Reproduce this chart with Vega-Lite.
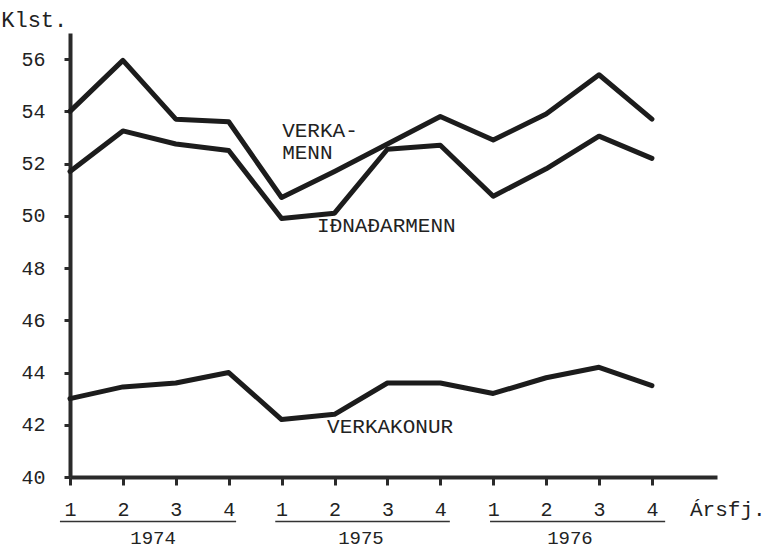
{
  "$schema": "https://vega.github.io/schema/vega-lite/v6.json",
  "width": 647,
  "height": 444,
  "autosize": "none",
  "padding": {"left": 70, "top": 33, "right": 51, "bottom": 74},
  "background": "white",
  "config": {"view": {"stroke": null}, "font": "Liberation Mono"},
  "datasets": {
    "series": [
      {"t": 0, "group": "VERKAMENN", "value": 54.0},
      {"t": 1, "group": "VERKAMENN", "value": 55.95},
      {"t": 2, "group": "VERKAMENN", "value": 53.7},
      {"t": 3, "group": "VERKAMENN", "value": 53.6},
      {"t": 4, "group": "VERKAMENN", "value": 50.7},
      {"t": 5, "group": "VERKAMENN", "value": 51.7},
      {"t": 6, "group": "VERKAMENN", "value": 52.75},
      {"t": 7, "group": "VERKAMENN", "value": 53.8},
      {"t": 8, "group": "VERKAMENN", "value": 52.9},
      {"t": 9, "group": "VERKAMENN", "value": 53.9},
      {"t": 10, "group": "VERKAMENN", "value": 55.4},
      {"t": 11, "group": "VERKAMENN", "value": 53.7},
      {"t": 0, "group": "IÐNAÐARMENN", "value": 51.7},
      {"t": 1, "group": "IÐNAÐARMENN", "value": 53.25},
      {"t": 2, "group": "IÐNAÐARMENN", "value": 52.75},
      {"t": 3, "group": "IÐNAÐARMENN", "value": 52.5},
      {"t": 4, "group": "IÐNAÐARMENN", "value": 49.9},
      {"t": 5, "group": "IÐNAÐARMENN", "value": 50.1},
      {"t": 6, "group": "IÐNAÐARMENN", "value": 52.55},
      {"t": 7, "group": "IÐNAÐARMENN", "value": 52.7},
      {"t": 8, "group": "IÐNAÐARMENN", "value": 50.75},
      {"t": 9, "group": "IÐNAÐARMENN", "value": 51.8},
      {"t": 10, "group": "IÐNAÐARMENN", "value": 53.05},
      {"t": 11, "group": "IÐNAÐARMENN", "value": 52.2},
      {"t": 0, "group": "VERKAKONUR", "value": 43.0},
      {"t": 1, "group": "VERKAKONUR", "value": 43.45},
      {"t": 2, "group": "VERKAKONUR", "value": 43.6},
      {"t": 3, "group": "VERKAKONUR", "value": 44.0},
      {"t": 4, "group": "VERKAKONUR", "value": 42.2},
      {"t": 5, "group": "VERKAKONUR", "value": 42.4},
      {"t": 6, "group": "VERKAKONUR", "value": 43.6},
      {"t": 7, "group": "VERKAKONUR", "value": 43.6},
      {"t": 8, "group": "VERKAKONUR", "value": 43.2},
      {"t": 9, "group": "VERKAKONUR", "value": 43.8},
      {"t": 10, "group": "VERKAKONUR", "value": 44.2},
      {"t": 11, "group": "VERKAKONUR", "value": 43.5}
    ],
    "labels": [
      {"t": 4.01, "value": 53.24, "text": "VERKA-", "size": 21},
      {"t": 4.01, "value": 52.4, "text": "MENN", "size": 21},
      {"t": 4.67, "value": 49.62, "text": "IÐNAÐARMENN", "size": 21},
      {"t": 4.86, "value": 41.9, "text": "VERKAKONUR", "size": 21},
      {"t": -1.3, "value": 57.5, "text": "Klst.", "size": 22},
      {"t": 11.72, "value": 38.75, "text": "Ársfj.", "size": 21}
    ],
    "years": [
      {"t": 1.57, "value": 37.68, "text": "1974"},
      {"t": 5.5, "value": 37.68, "text": "1975"},
      {"t": 9.45, "value": 37.68, "text": "1976"}
    ],
    "underlines": [
      {"t": -0.19, "t2": 3.14, "value": 38.3},
      {"t": 3.88, "t2": 7.18, "value": 38.3},
      {"t": 7.94, "t2": 11.25, "value": 38.3}
    ]
  },
  "layer": [
    {
      "data": {"name": "series"},
      "mark": {"type": "line", "color": "#1c1c1c", "strokeWidth": 5, "strokeJoin": "round", "strokeCap": "round", "clip": false},
      "encoding": {
        "x": {
          "field": "t", "type": "quantitative",
          "scale": {"domain": [0, 12.23], "nice": false, "zero": false},
          "axis": {
            "title": null, "grid": false,
            "values": [0, 1, 2, 3, 4, 5, 6, 7, 8, 9, 10, 11],
            "labelExpr": "(datum.value % 4) + 1",
            "domainColor": "#2a2a2a", "domainWidth": 4,
            "tickColor": "#2a2a2a", "tickWidth": 3, "tickSize": 8,
            "labelFont": "Liberation Mono", "labelFontSize": 20, "labelColor": "#222",
            "labelPadding": 14, "labelFlush": false
          }
        },
        "y": {
          "field": "value", "type": "quantitative",
          "scale": {"domain": [40, 57], "nice": false, "zero": false},
          "axis": {
            "title": null, "grid": false,
            "values": [40, 42, 44, 46, 48, 50, 52, 54, 56],
            "domainColor": "#2a2a2a", "domainWidth": 4,
            "tickColor": "#2a2a2a", "tickWidth": 3, "tickSize": 6,
            "labelFont": "Liberation Mono", "labelFontSize": 20, "labelColor": "#222",
            "labelPadding": 19, "labelFlush": false
          }
        },
        "detail": {"field": "group"}
      }
    },
    {
      "data": {"name": "underlines"},
      "mark": {"type": "rule", "color": "#333", "strokeWidth": 1.5, "clip": false},
      "encoding": {
        "x": {"field": "t", "type": "quantitative"},
        "x2": {"field": "t2"},
        "y": {"field": "value", "type": "quantitative"}
      }
    },
    {
      "data": {"name": "years"},
      "mark": {"type": "text", "font": "Liberation Mono", "fontSize": 19, "color": "#222", "align": "center", "baseline": "middle", "clip": false},
      "encoding": {
        "x": {"field": "t", "type": "quantitative"},
        "y": {"field": "value", "type": "quantitative"},
        "text": {"field": "text"}
      }
    },
    {
      "data": {"name": "labels"},
      "mark": {"type": "text", "font": "Liberation Mono", "color": "#222", "align": "left", "baseline": "middle", "clip": false},
      "encoding": {
        "x": {"field": "t", "type": "quantitative"},
        "y": {"field": "value", "type": "quantitative"},
        "text": {"field": "text"},
        "size": {"field": "size", "type": "quantitative", "scale": null}
      }
    }
  ]
}
